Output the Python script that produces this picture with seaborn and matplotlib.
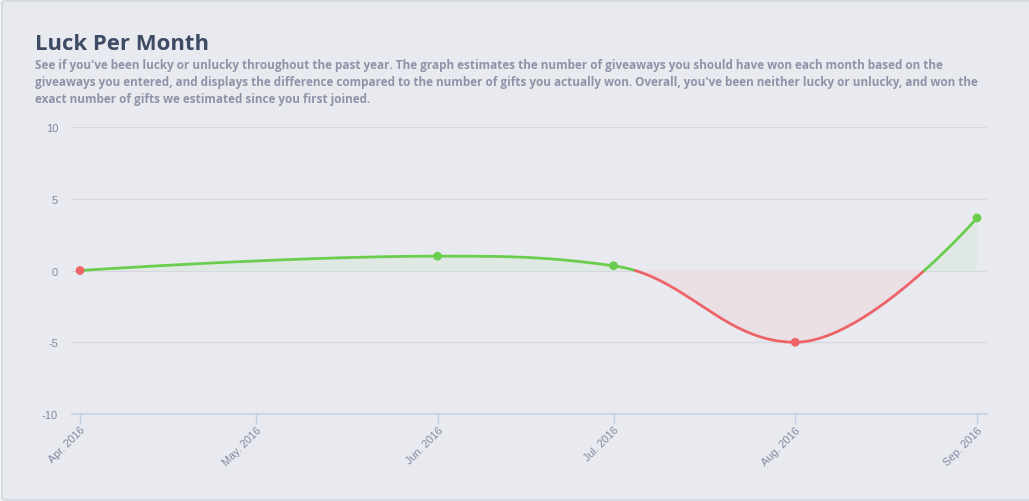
import numpy as np
import pandas as pd
import matplotlib
matplotlib.use("Agg")
import matplotlib.pyplot as plt
import matplotlib.dates as mdates
from matplotlib.patches import FancyBboxPatch
import seaborn as sns

# ---- data ----
months = ["2016-04-01", "2016-06-01", "2016-07-01", "2016-08-01", "2016-09-01"]
luck = [0.0, 1.0, 0.33, -5.0, 3.66]
tick_months = ["2016-04-01", "2016-05-01", "2016-06-01", "2016-07-01", "2016-08-01", "2016-09-01"]
y_ticks = [-10, -5, 0, 5, 10]
title = "Luck Per Month"
subtitle = ("See if you've been lucky or unlucky throughout the past year. The graph estimates the number of giveaways you should have won each month based on the\n"
            "giveaways you entered, and displays the difference compared to the number of gifts you actually won. Overall, you've been neither lucky or unlucky, and won the\n"
            "exact number of gifts we estimated since you first joined.")

GREEN = "#6acd4d"
RED = "#ec6468"
GREEN_FILL = "#dfe8e3"
RED_FILL = "#e9dfe4"
BG = "#e9eaef"

sns.set_theme(style="white")
plt.rcParams["font.family"] = ["Liberation Sans", "DejaVu Sans"]

df = pd.DataFrame({"date": pd.to_datetime(months), "luck": luck})
df["x"] = mdates.date2num(df["date"])


def hc_spline(xs, ys, smoothing=1.5, n=200):
    xs = np.asarray(xs, float); ys = np.asarray(ys, float)
    m = len(xs)
    lc = [(xs[i], ys[i]) for i in range(m)]
    rc = [(xs[i], ys[i]) for i in range(m)]
    for i in range(1, m - 1):
        lx, ly = xs[i - 1], ys[i - 1]
        nx, ny = xs[i + 1], ys[i + 1]
        px, py = xs[i], ys[i]
        d = smoothing + 1
        lcx = (smoothing * px + lx) / d
        lcy = (smoothing * py + ly) / d
        rcx = (smoothing * px + nx) / d
        rcy = (smoothing * py + ny) / d
        if rcx != lcx:
            corr = ((rcy - lcy) * (rcx - px)) / (rcx - lcx) + py - rcy
            lcy += corr; rcy += corr
        if lcy > ly and lcy > py:
            lcy = max(ly, py); rcy = 2 * py - lcy
        elif lcy < ly and lcy < py:
            lcy = min(ly, py); rcy = 2 * py - lcy
        if rcy > ny and rcy > py:
            rcy = max(ny, py); lcy = 2 * py - rcy
        elif rcy < ny and rcy < py:
            rcy = min(ny, py); lcy = 2 * py - rcy
        lc[i] = (lcx, lcy); rc[i] = (rcx, rcy)
    X, Y = [], []
    t = np.linspace(0, 1, n)
    for i in range(1, m):
        p0 = np.array([xs[i - 1], ys[i - 1]]); p1 = np.array(rc[i - 1])
        p2 = np.array(lc[i]); p3 = np.array([xs[i], ys[i]])
        b = ((1 - t) ** 3)[:, None] * p0 + (3 * (1 - t) ** 2 * t)[:, None] * p1 \
            + (3 * (1 - t) * t ** 2)[:, None] * p2 + (t ** 3)[:, None] * p3
        if i > 1:
            b = b[1:]
        X.append(b[:, 0]); Y.append(b[:, 1])
    return np.concatenate(X), np.concatenate(Y)


cx, cy = hc_spline(df["x"], df["luck"])

# insert zero crossings for clean split
PX, PY = [cx[0]], [cy[0]]
for i in range(1, len(cx)):
    if (cy[i - 1] < 0) != (cy[i] < 0) and cy[i] != cy[i - 1] and cy[i - 1] != 0 and cy[i] != 0:
        t = -cy[i - 1] / (cy[i] - cy[i - 1])
        PX.append(cx[i - 1] + t * (cx[i] - cx[i - 1])); PY.append(0.0)
    PX.append(cx[i]); PY.append(cy[i])
PX = np.array(PX); PY = np.array(PY)

W, H = 1029, 502
fig = plt.figure(figsize=(W / 100, H / 100), dpi=100)
fig.patch.set_facecolor("#f4f5f8")
card = FancyBboxPatch((2 / W, 1 / H), (W + 10) / W, (H - 3) / H,
                      boxstyle="round,pad=0,rounding_size=0.004",
                      transform=fig.transFigure, facecolor=BG, edgecolor="#d3d5de",
                      linewidth=1.2, zorder=-5)
fig.patches.append(card)

ax = fig.add_axes([72 / W, (H - 415) / H, (987 - 72) / W, (415 - 128) / H])
ax.set_zorder(2)
ax.patch.set_alpha(0)

# fills
ax.fill_between(PX, PY, 0, where=PY >= 0, color=GREEN_FILL, interpolate=True, linewidth=0, zorder=1)
ax.fill_between(PX, PY, 0, where=PY <= 0, color=RED_FILL, interpolate=True, linewidth=0, zorder=1)

# split into colored runs at zero crossings
cuts = [0] + [i for i in range(1, len(PX) - 1) if PY[i] == 0.0] + [len(PX) - 1]
for s, e in zip(cuts[:-1], cuts[1:]):
    seg_y = PY[s:e + 1]
    mid = seg_y[len(seg_y) // 2]
    col = RED if mid < 0 else GREEN
    sns.lineplot(x=PX[s:e + 1], y=seg_y, sort=False, estimator=None, color=col,
                 linewidth=2.0, ax=ax, zorder=3)

point_colors = [RED if v <= 0 else GREEN for v in df["luck"]]
sns.scatterplot(x=df["x"], y=df["luck"], hue=np.arange(len(df)).astype(str),
                palette=point_colors, s=40, edgecolor="none", legend=False, ax=ax, zorder=4)

xmin = mdates.date2num(pd.Timestamp(tick_months[0])) - 8 / 5.863
xmax = mdates.date2num(pd.Timestamp(tick_months[-1])) + 10 / 5.863
ax.set_xlim(xmin, xmax)
ax.set_ylim(-10, 10)
ax.set_yticks(y_ticks)
ax.set_yticklabels([str(v) for v in y_ticks])
ax.set_xticks(mdates.date2num(pd.to_datetime(tick_months)))
ax.set_xticklabels([pd.Timestamp(d).strftime("%b. %Y") for d in tick_months],
                   rotation=45, ha="right", va="top", rotation_mode="anchor")
ax.set_xlabel(""); ax.set_ylabel("")

for v in [-5, 0, 5, 10]:
    ax.axhline(v, color="#d6d8e0", linewidth=1.0, zorder=0.5)

for sp in ["top", "right", "left"]:
    ax.spines[sp].set_visible(False)
ax.spines["bottom"].set_color("#c3d0e3")
ax.spines["bottom"].set_linewidth(1.2)
ax.tick_params(axis="x", bottom=True, colors="#c3d0e3", length=7, width=1, direction="out", pad=0.5,
               labelcolor="#7d8aa2", labelsize=7.8)
ax.tick_params(axis="y", left=False, length=0, pad=10, labelcolor="#7d8aa2", labelsize=8)
ax.grid(False)

fig.text(35 / W, 1 - 50 / H, title, fontsize=15.9, fontweight="bold",
         family=["Open Sans", "DejaVu Sans"], color="#3d4c64", ha="left", va="baseline")
fig.text(35 / W, 1 - 59 / H, subtitle, fontsize=8.45, fontweight="bold",
         family=["Open Sans", "DejaVu Sans"], color="#8d94a8", ha="left", va="top",
         linespacing=1.38)

fig.savefig("out.png", dpi=100, facecolor=fig.get_facecolor())
